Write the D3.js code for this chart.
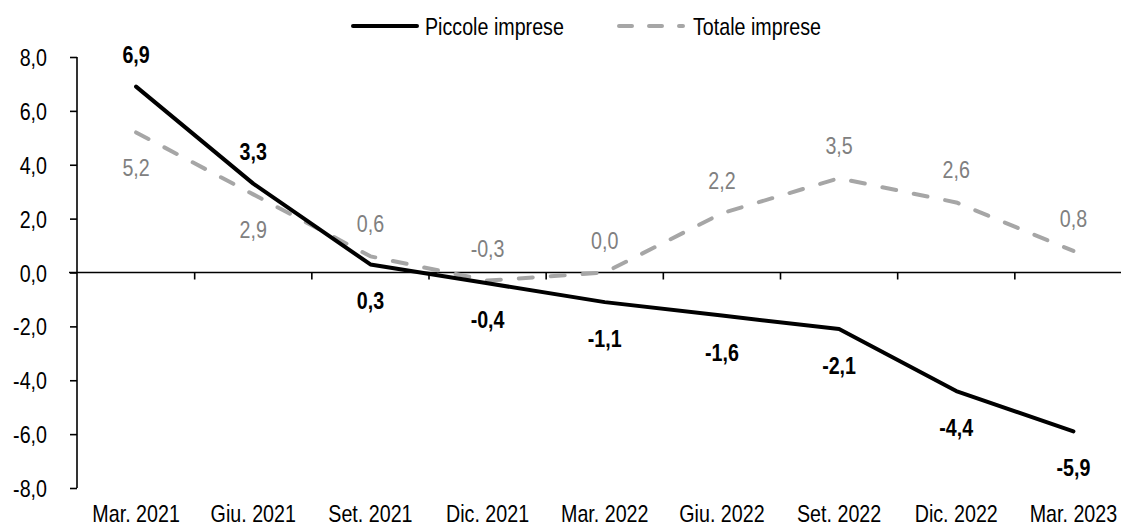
<!DOCTYPE html>
<html>
<head>
<meta charset="utf-8">
<script src="https://cdn.jsdelivr.net/npm/d3@7"></script>
<style>
  html, body { margin: 0; padding: 0; background: #fff; }
  svg { display: block; }
  text { font-family: "Liberation Sans", Arial, sans-serif; }
</style>
</head>
<body>
<svg id="chart" width="1121" height="527"></svg>
<script>
const categories = ["Mar. 2021","Giu. 2021","Set. 2021","Dic. 2021","Mar. 2022","Giu. 2022","Set. 2022","Dic. 2022","Mar. 2023"];
const piccole = [6.9, 3.3, 0.3, -0.4, -1.1, -1.6, -2.1, -4.4, -5.9];
const totale  = [5.2, 2.9, 0.6, -0.3, 0.0, 2.2, 3.5, 2.6, 0.8];
const yTicks = [-8, -6, -4, -2, 0, 2, 4, 6, 8];
const seriesNames = ["Piccole imprese", "Totale imprese"];
// label placement: 1 = above, -1 = below
const piccolePos = [1, 1, -1, -1, -1, -1, -1, -1, -1];
const totalePos  = [-1, -1, 1, 1, 1, 1, 1, 1, 1];

const SX = 0.82; // horizontal condensing to mimic a narrow face
const svg = d3.select("#chart");
const fmt = v => d3.format(".1f")(v).replace(".", ",").replace("−", "-");

// convert x/y-positioned texts into condensed texts
function narrow(sel) {
  sel.each(function() {
    const t = d3.select(this);
    const tx = +t.attr("x") || 0, ty = +t.attr("y") || 0;
    t.attr("x", 0).attr("y", 0).attr("transform", `translate(${tx},${ty}) scale(${SX},1)`);
  });
}

const x = d3.scaleBand().domain(categories).range([77.5, 1132]).padding(0);
const y = d3.scaleLinear().domain([-8, 8]).range([488, 57]);
const cx = c => x(c) + x.bandwidth() / 2;

// Y axis
const yAxis = svg.append("g").attr("transform", "translate(77,0)")
  .call(d3.axisLeft(y).tickValues(yTicks).tickFormat(fmt).tickSize(7).tickPadding(23).tickSizeOuter(0));
yAxis.select(".domain").attr("stroke", "#000").attr("stroke-width", 1.6).attr("d", `M0,${y(8)}V${y(-8)}`);
yAxis.selectAll(".tick line").attr("stroke", "#000").attr("stroke-width", 1.6);
yAxis.selectAll(".tick text").attr("font-size", 24).attr("fill", "#000")
  .attr("font-family", '"Liberation Sans", Arial, sans-serif')
  .attr("dy", null).attr("y", 8.5);
narrow(yAxis.selectAll(".tick text"));

// X axis at zero
const boundaries = categories.map(c => x(c)).slice(1).concat([x.range()[1]]);
const xAxis = svg.append("g").attr("transform", `translate(0,${y(0)})`);
xAxis.append("line").attr("x1", 69).attr("x2", 1132).attr("y1", 0).attr("y2", 0)
  .attr("stroke", "#000").attr("stroke-width", 1.6);
xAxis.selectAll("line.tk").data(boundaries).join("line").attr("class", "tk")
  .attr("x1", d => d).attr("x2", d => d).attr("y1", 0).attr("y2", 7)
  .attr("stroke", "#000").attr("stroke-width", 1.6);

// Category labels at bottom
narrow(svg.append("g").selectAll("text").data(categories).join("text")
  .attr("x", d => cx(d)).attr("y", 522).attr("text-anchor", "middle")
  .attr("font-size", 24).attr("fill", "#000").text(d => d));

const line = d3.line().x((d, i) => cx(categories[i])).y(d => y(d));

// Totale (dashed grey)
svg.append("path").datum(totale).attr("d", line).attr("fill", "none")
  .attr("stroke", "#a6a6a6").attr("stroke-width", 4).attr("stroke-linecap", "round")
  .attr("stroke-linejoin", "round").attr("stroke-dasharray", "14,18");

// Piccole (solid black)
svg.append("path").datum(piccole).attr("d", line).attr("fill", "none")
  .attr("stroke", "#000").attr("stroke-width", 4).attr("stroke-linecap", "round")
  .attr("stroke-linejoin", "round");

// Data labels
narrow(svg.append("g").selectAll("text").data(totale).join("text")
  .attr("x", (d, i) => cx(categories[i]))
  .attr("y", (d, i) => totalePos[i] > 0 ? y(d) - 24 : y(d) + 44)
  .attr("text-anchor", "middle").attr("font-size", 24).attr("fill", "#808080")
  .text(d => fmt(d)));

narrow(svg.append("g").selectAll("text").data(piccole).join("text")
  .attr("x", (d, i) => cx(categories[i]))
  .attr("y", (d, i) => piccolePos[i] > 0 ? y(d) - 24 : y(d) + 45)
  .attr("text-anchor", "middle").attr("font-size", 24).attr("font-weight", "bold").attr("fill", "#000")
  .text(d => fmt(d)));

// Legend
const lg = svg.append("g");
lg.append("line").attr("x1", 353).attr("x2", 417).attr("y1", 26).attr("y2", 26)
  .attr("stroke", "#000").attr("stroke-width", 4).attr("stroke-linecap", "round");
lg.append("text").attr("x", 425).attr("y", 34.5).attr("font-size", 24).attr("fill", "#000").text(seriesNames[0]);
lg.append("line").attr("x1", 619).attr("x2", 683).attr("y1", 26).attr("y2", 26)
  .attr("stroke", "#a6a6a6").attr("stroke-width", 4).attr("stroke-linecap", "round")
  .attr("stroke-dasharray", "13,17");
lg.append("text").attr("x", 693).attr("y", 34.5).attr("font-size", 24).attr("fill", "#000").text(seriesNames[1]);
narrow(lg.selectAll("text"));
</script>
</body>
</html>
